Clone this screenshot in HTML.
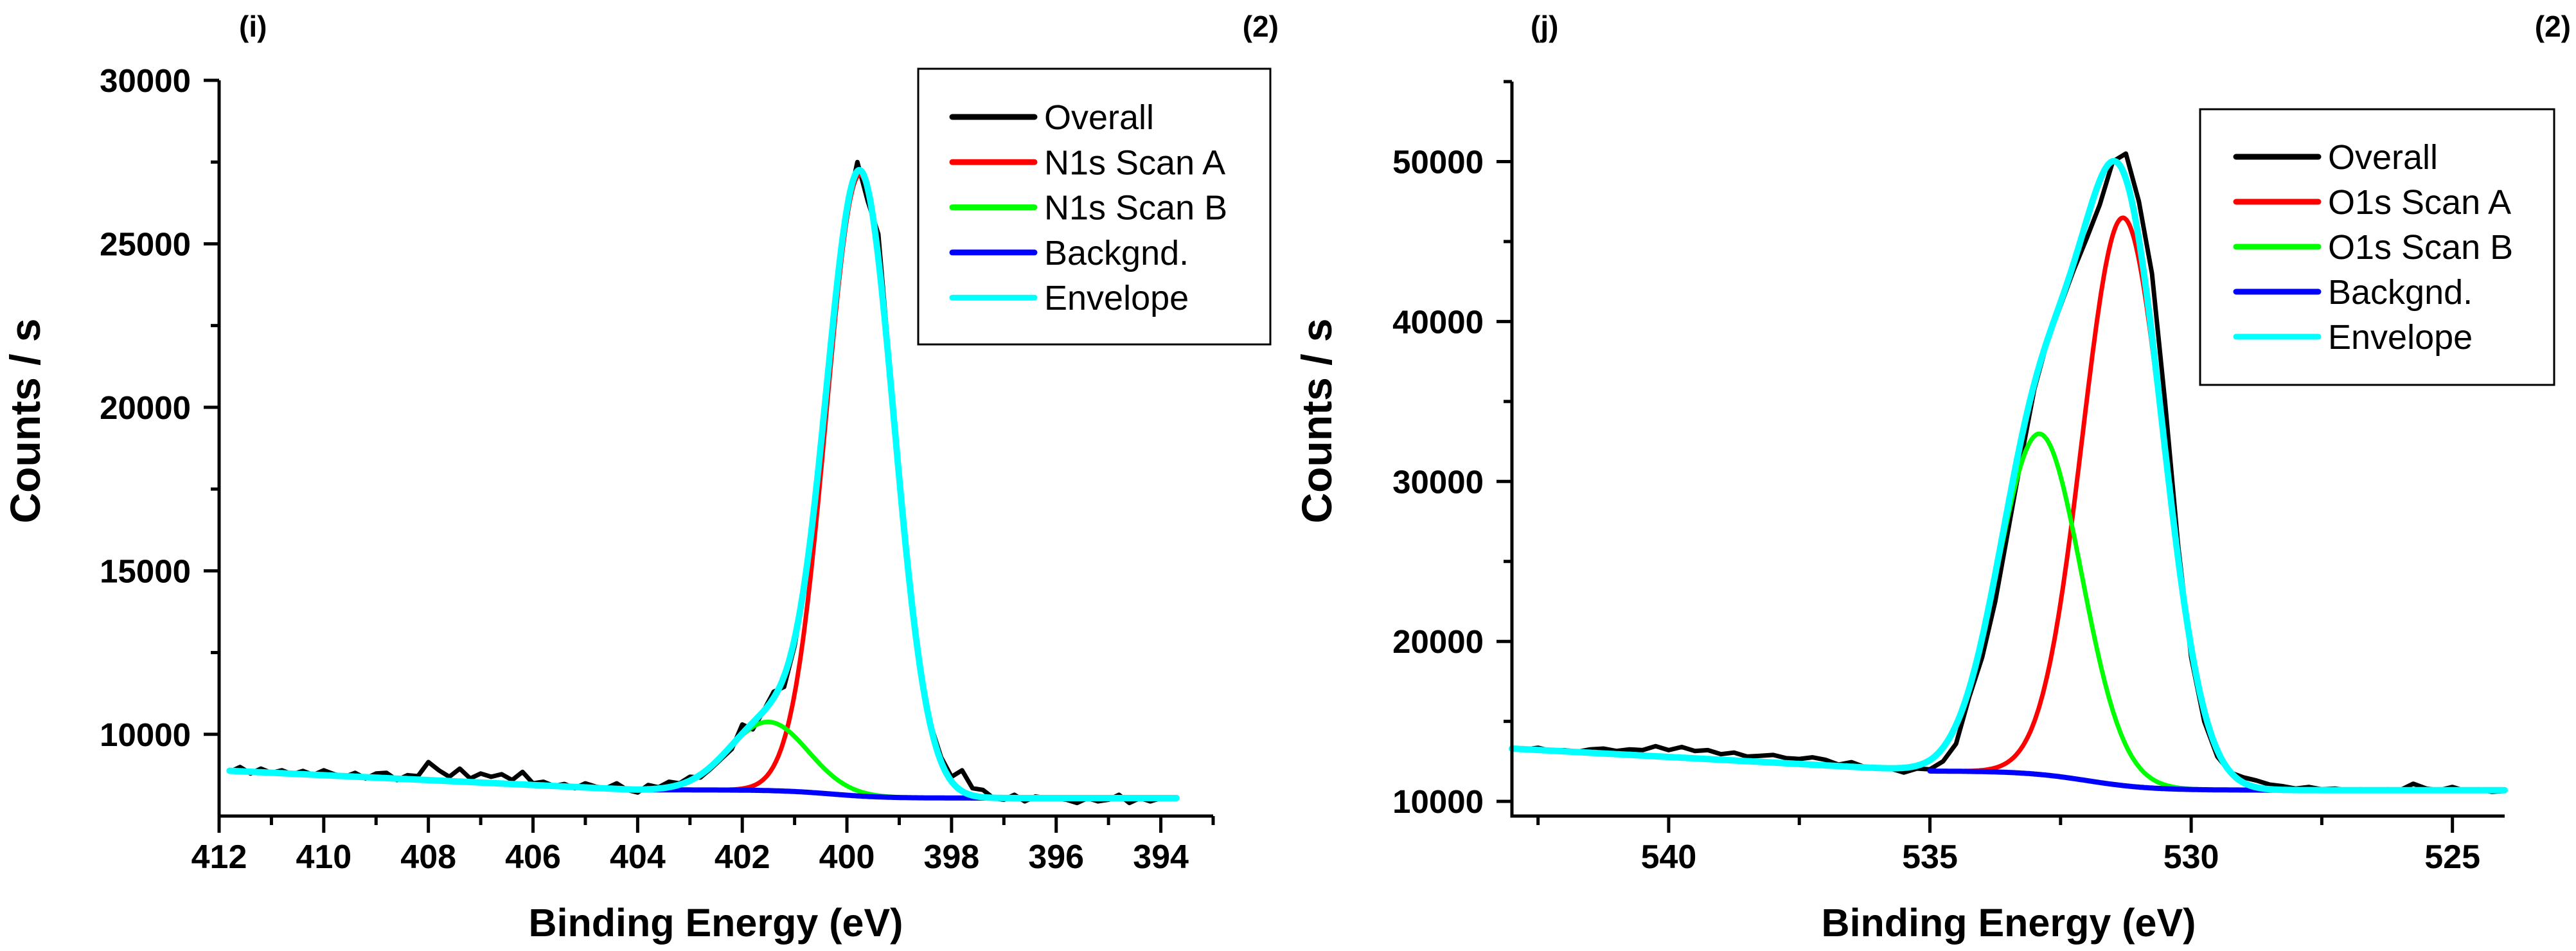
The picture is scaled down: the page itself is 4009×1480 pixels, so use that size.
<!DOCTYPE html>
<html><head><meta charset="utf-8"><style>
html,body{margin:0;padding:0;background:#fff}
svg{display:block}
text{font-family:"Liberation Sans",Arial,sans-serif}
</style></head><body>
<svg id="chart" width="4009" height="1480" viewBox="0 0 4009 1480" xmlns="http://www.w3.org/2000/svg"></svg>
<script>
// ---------- N1s panel data ----------
const n1sEnergy = [411.8,411.6,411.4,411.2,411.0,410.8,410.6,410.4,410.2,410.0,409.8,409.6,409.4,409.2,409.0,408.8,408.6,408.4,408.2,408.0,407.8,407.6,407.4,407.2,407.0,406.8,406.6,406.4,406.2,406.0,405.8,405.6,405.4,405.2,405.0,404.8,404.6,404.4,404.2,404.0,403.8,403.6,403.4,403.2,403.0,402.8,402.6,402.4,402.2,402.0,401.8,401.6,401.4,401.2,401.0,400.8,400.6,400.4,400.2,400.0,399.8,399.6,399.4,399.2,399.0,398.8,398.6,398.4,398.2,398.0,397.8,397.6,397.4,397.2,397.0,396.8,396.6,396.4,396.2,396.0,395.8,395.6,395.4,395.2,395.0,394.8,394.6,394.4,394.2,394.0,393.8];
const n1sOverall = [8850,9000,8800,8950,8820,8900,8780,8880,8760,8900,8780,8700,8820,8650,8800,8820,8600,8750,8720,9150,8900,8700,8950,8650,8800,8700,8780,8600,8850,8500,8550,8420,8480,8350,8500,8400,8350,8500,8300,8220,8450,8380,8550,8500,8700,8680,8950,9250,9550,10300,10150,10700,11300,11450,12700,14600,17300,20400,23500,26000,27500,26300,25300,21600,18000,14700,12000,10300,9300,8700,8900,8350,8300,8050,8000,8150,7950,8100,8050,8050,8000,7900,8050,7950,8000,8150,7900,8050,7950,8050,8050];
const n1sPeakCenters = [399.75, 401.5];
const n1sPeakHeights = [19000, 2100];
const n1sPeakSigmas = [0.65, 0.75];
const n1sBgLevels = [8900, 8300, 8050];   // at high-E end, upper plateau, lower plateau
const n1sBgStep = [400.3, 0.5];
const n1sXTicks = [412,410,408,406,404,402,400,398,396,394];
const n1sYTicks = [10000,15000,20000,25000,30000];
const n1sLegend = ["Overall","N1s Scan A","N1s Scan B","Backgnd.","Envelope"];

// ---------- O1s panel data ----------
const o1sEnergy = [543,542.75,542.5,542.25,542,541.75,541.5,541.25,541,540.75,540.5,540.25,540,539.75,539.5,539.25,539,538.75,538.5,538.25,538,537.75,537.5,537.25,537,536.75,536.5,536.25,536,535.75,535.5,535.25,535,534.75,534.5,534.25,534,533.75,533.5,533.25,533,532.75,532.5,532.25,532,531.75,531.5,531.25,531,530.75,530.5,530.25,530,529.75,529.5,529.25,529,528.75,528.5,528.25,528,527.75,527.5,527.25,527,526.75,526.5,526.25,526,525.75,525.5,525.25,525,524.75,524.5,524.25,524];
const o1sOverall = [13300,13250,13350,13150,13200,13100,13250,13300,13150,13250,13200,13450,13200,13400,13150,13200,12950,13050,12800,12850,12900,12700,12650,12750,12600,12300,12450,12150,12100,12050,11800,12050,12000,12500,13600,16500,19000,22500,27000,31500,35800,38800,41000,43200,45200,47300,50000,50500,47500,43000,35000,26000,19000,15000,12800,11800,11500,11300,11050,10950,10800,10900,10750,10800,10700,10750,10650,10750,10700,11100,10800,10700,10900,10650,10750,10600,10650];
const o1sPeakCenters = [531.3, 532.9];
const o1sPeakHeights = [35500, 21300];
const o1sPeakSigmas = [0.78, 0.8];
const o1sBgLevels = [13300, 11900, 10700];
const o1sBgStep = [532.0, 0.6];
const o1sXTicks = [540,535,530,525];
const o1sXMinor = [542.5,537.5,532.5,527.5];
const o1sYTicks = [10000,20000,30000,40000,50000];
const o1sYMinor = [15000,25000,35000,45000,55000];
const o1sLegend = ["Overall","O1s Scan A","O1s Scan B","Backgnd.","Envelope"];

const NS = "http://www.w3.org/2000/svg";
const svg = document.getElementById('chart');
function mk(tag, attrs, parent){
  const e = document.createElementNS(NS, tag);
  for (const k in attrs) e.setAttribute(k, attrs[k]);
  (parent||svg).appendChild(e);
  return e;
}
function range(a,b,step){const r=[];for(let v=a;v>=b-1e-9;v-=step)r.push(+v.toFixed(3));return r;}

function drawPanel(P){
  const g = mk('g',{});
  
  
  const sx = e => P.x0 + (P.eMax - e) / (P.eMax - P.eMin) * (P.x1 - P.x0);
  const sy = c => P.y1 - (c - P.cMin) / (P.cMax - P.cMin) * (P.y1 - P.y0);
  const bg = e => {
    if (e >= P.bgHighE) return P.bgLevels[1] + (P.bgLevels[0]-P.bgLevels[1]) * (e - P.bgHighE)/(P.eMax - P.bgHighE);
    const s = 1/(1+Math.exp(-(e-P.bgStep[0])/P.bgStep[1]));
    return P.bgLevels[2] + (P.bgLevels[1]-P.bgLevels[2]) * s;
  };
  const peak = (i,e) => P.heights[i]*Math.exp(-0.5*Math.pow((e-P.centers[i])/P.sigmas[i],2));
  const curve = (from,to,fn,color,w,name) => {
    let d='';
    for(let e=from;e>=to-1e-9;e-=0.02){ d += (d?'L':'M') + sx(e).toFixed(1)+','+sy(fn(e)).toFixed(1); }
    const p = mk('path',{d:d,fill:'none',stroke:color,'stroke-width':w,'stroke-linejoin':'round','stroke-linecap':'round'},g);
    
    
  };
  let d='';
  P.energy.forEach((e,i)=>{ d += (i?'L':'M') + sx(e).toFixed(1)+','+sy(P.overall[i]).toFixed(1); });
  const ov = mk('path',{d:d,fill:'none',stroke:'#000','stroke-width':7,'stroke-linejoin':'round'},g);
  
  
  curve(P.redRange[0],P.redRange[1],e=>bg(e)+peak(0,e),'#ff0000',7,'scan-a-series');
  curve(P.greenRange[0],P.greenRange[1],e=>bg(e)+peak(1,e),'#00ff00',7,'scan-b-series');
  curve(P.blueRange[0],P.blueRange[1],bg,'#0000ff',8,'background-series');
  curve(P.cyanRange[0],P.cyanRange[1],e=>bg(e)+peak(0,e)+peak(1,e),'#00ffff',10,'envelope-series');

  const ax = mk('path',{d:`M${P.x0},${P.y0}L${P.x0},${P.y1}L${P.x1},${P.y1}`,fill:'none',stroke:'#000','stroke-width':5},g);
  
  
  P.xTicks.forEach(v=>{
    const x = sx(v);
    mk('line',{x1:x,y1:P.y1,x2:x,y2:P.y1+26,stroke:'#000','stroke-width':5},g);
    const t = mk('text',{x:x,y:1351,'text-anchor':'middle','font-size':52,'font-weight':'bold'},g);
    t.textContent = v;
    
    
  });
  P.xMinor.forEach(v=>{ const x=sx(v); mk('line',{x1:x,y1:P.y1,x2:x,y2:P.y1+14,stroke:'#000','stroke-width':5},g); });
  P.yTicks.forEach(v=>{
    const y = sy(v);
    mk('line',{x1:P.x0-24,y1:y,x2:P.x0,y2:y,stroke:'#000','stroke-width':5},g);
    const t = mk('text',{x:P.x0-44,y:y+18,'text-anchor':'end','font-size':51,'font-weight':'bold'},g);
    t.textContent = v;
    
    
  });
  P.yMinor.forEach(v=>{ const y=sy(v); mk('line',{x1:P.x0-13,y1:y,x2:P.x0,y2:y,stroke:'#000','stroke-width':5},g); });

  const yt = mk('text',{transform:`translate(${P.yTitleX},655) rotate(-90)`,'text-anchor':'middle','font-size':66,'font-weight':'bold'},g);
  yt.textContent = 'Counts / s';
  
  
  const xt = mk('text',{x:P.xTitleX,y:1457,'text-anchor':'middle','font-size':61,'font-weight':'bold'},g);
  xt.textContent = 'Binding Energy (eV)';
  
  
  const lab = mk('text',{x:P.labelX,y:57,'font-size':46,'font-weight':'bold'},g);
  lab.textContent = P.label;
  
  
  const lab2 = mk('text',{x:P.label2X,y:57,'text-anchor':'end','font-size':46,'font-weight':'bold'},g);
  lab2.textContent = '(2)';
  
  

  const L = P.legend;
  const lg = mk('g',{},g);
  
  
  mk('rect',{x:L.x,y:L.y,width:L.w,height:L.h,fill:'#fff',stroke:'#000','stroke-width':3},lg);
  const cols = ['#000','#ff0000','#00ff00','#0000ff','#00ffff'];
  P.legendLabels.forEach((s,i)=>{
    const y = L.firstY + i*L.dy;
    const ln = mk('line',{x1:L.lineX,y1:y,x2:L.lineX+128,y2:y,stroke:cols[i],'stroke-width':9,'stroke-linecap':'round'},lg);
    
    
    const t = mk('text',{x:L.lineX+143,y:y+19,'font-size':54},lg);
    t.textContent = s;
    
    
  });
}

drawPanel({name:'n1s-panel',x0:341,x1:1888,y0:125,y1:1270,eMax:412,eMin:393.0,cMin:7500,cMax:30000,
  energy:n1sEnergy,overall:n1sOverall,centers:n1sPeakCenters,heights:n1sPeakHeights,sigmas:n1sPeakSigmas,
  bgLevels:n1sBgLevels,bgStep:n1sBgStep,bgHighE:404,
  redRange:[403.5,393.7],greenRange:[404.5,393.7],blueRange:[404.2,393.7],cyanRange:[411.8,393.7],
  xTicks:n1sXTicks,xMinor:range(411,393,2),yTicks:n1sYTicks,yMinor:[12500,17500,22500,27500],
  yTitleX:62,xTitleX:1114,label:'(i)',labelX:372,label2X:1990,
  legend:{x:1429,y:107,w:548,h:429,firstY:182,dy:70.3,lineX:1482},legendLabels:n1sLegend});

drawPanel({name:'o1s-panel',x0:2353,x1:3898,y0:127,y1:1270,eMax:543,eMin:524,cMin:9080,cMax:55000,
  energy:o1sEnergy,overall:o1sOverall,centers:o1sPeakCenters,heights:o1sPeakHeights,sigmas:o1sPeakSigmas,
  bgLevels:o1sBgLevels,bgStep:o1sBgStep,bgHighE:535,
  redRange:[535,524],greenRange:[535.5,524],blueRange:[535,524],cyanRange:[543,524],
  xTicks:o1sXTicks,xMinor:o1sXMinor,yTicks:o1sYTicks,yMinor:o1sYMinor,
  yTitleX:2072,xTitleX:3126,label:'(j)',labelX:2382,label2X:4001,
  legend:{x:3424,y:170,w:551,h:429,firstY:244,dy:70,lineX:3480},legendLabels:o1sLegend});
</script>
</body></html>
